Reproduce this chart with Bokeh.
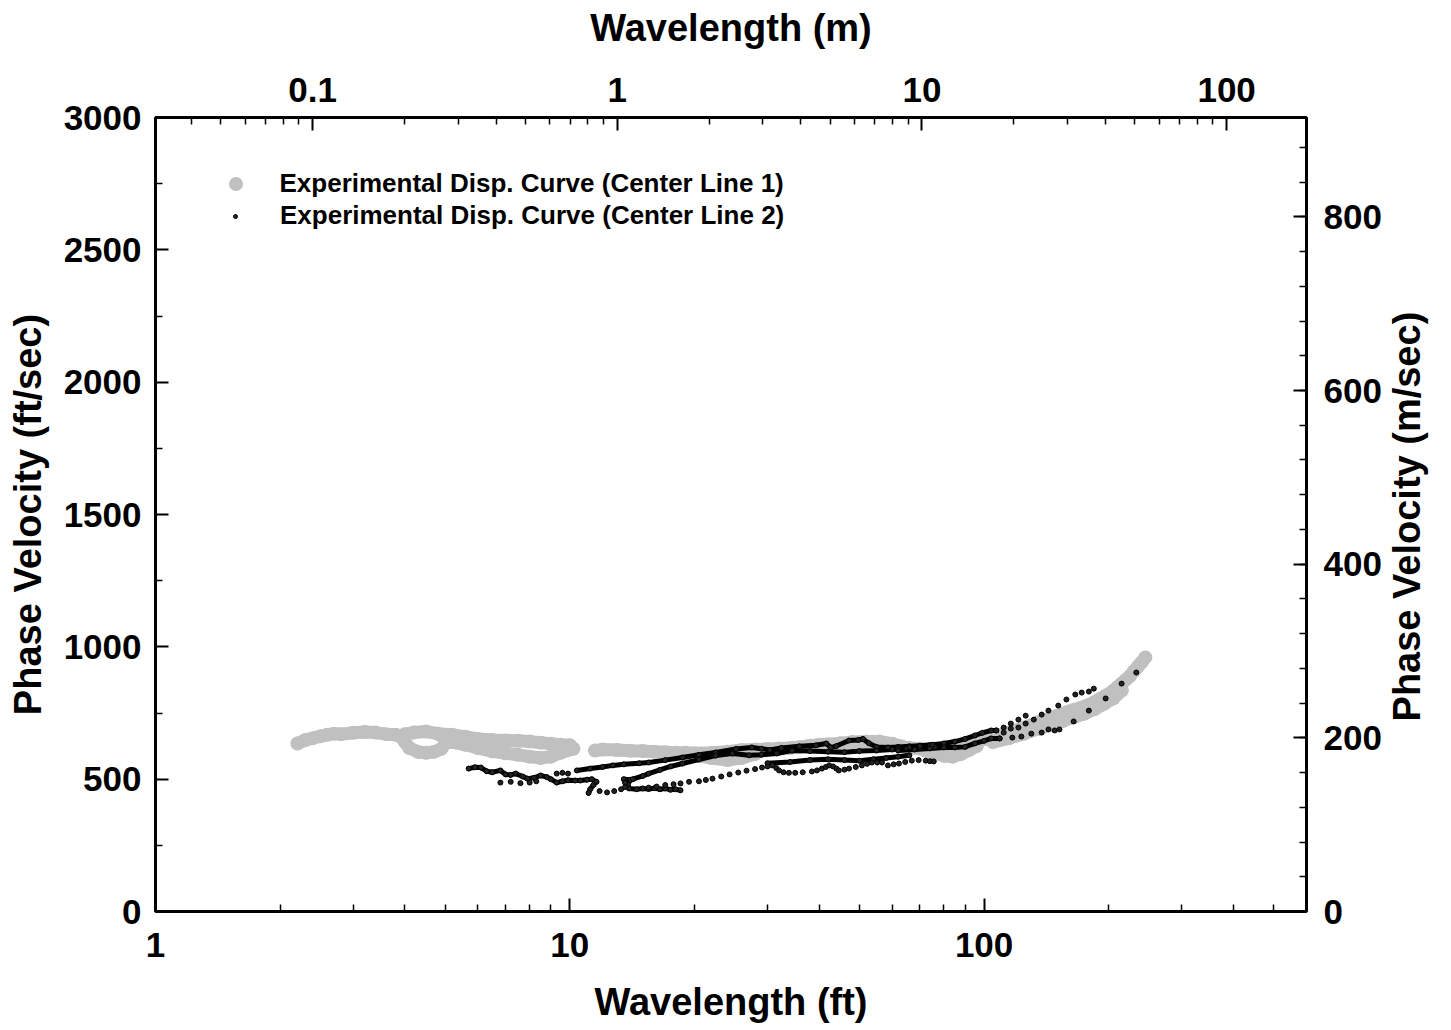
import math
from bokeh.plotting import figure
from bokeh.models import (Range1d, LogScale, LogAxis, LinearAxis, FixedTicker, Legend,
                          LegendItem, CustomJSTickFormatter)
from bokeh.embed import file_html
from bokeh.resources import INLINE

# ---------------- data (wavelength in ft, phase velocity in ft/sec) ----------------
# Center Line 1 (grey), read as overlapping tracks
cl1_a_ft = [2.2, 2.3, 2.4, 2.5, 2.6, 2.7, 2.8, 3.0, 3.2, 3.4, 3.6, 3.8, 3.9, 4.0, 4.1, 4.3, 4.5,
            4.7, 4.9, 5.0, 5.0, 4.8, 4.5, 4.2, 4.0]
cl1_a_v = [635, 648, 655, 662, 668, 672, 670, 675, 678, 676, 670, 668, 662, 640, 618, 603, 600,
           603, 615, 635, 655, 672, 680, 676, 670]
cl1_b_ft = [4.8, 5.2, 5.6, 6.0, 6.5, 7.0, 7.5, 8.0, 8.5, 9.0, 9.5, 10.0, 10.2, 9.5, 9.0, 8.5,
            8.0, 7.5, 7.0, 6.5, 6.0, 5.6, 5.2]
cl1_b_v = [672, 668, 660, 652, 648, 646, 645, 642, 638, 634, 630, 628, 615, 600, 585, 580,
           585, 592, 598, 605, 618, 630, 640]
cl1_c_ft = [11.5, 12, 13, 14, 15, 16, 17, 18, 19, 20, 22, 24, 26, 28, 30, 32, 34, 36, 38, 40,
            42, 45, 48, 52, 56, 60, 63, 66, 70, 74, 78, 82, 86, 90, 95, 100, 105, 110, 115,
            120, 125, 130, 135, 140, 145, 150, 155, 160, 165, 170, 175, 180, 185, 190, 195,
            200, 205, 210, 215, 220, 225, 230, 235, 240, 245]
cl1_c_v = [608, 612, 610, 607, 606, 604, 602, 600, 600, 598, 600, 604, 610, 612, 614, 616,
           618, 622, 626, 630, 632, 636, 640, 642, 642, 634, 624, 618, 616, 614, 610, 612,
           620, 630, 642, 652, 660, 668, 675, 685, 695, 705, 715, 724, 732, 740, 748, 756,
           762, 768, 775, 782, 792, 802, 812, 822, 834, 848, 862, 876, 890, 908, 925, 942, 960]
cl1_d_ft = [20, 22, 24, 26, 28]
cl1_d_v = [590, 580, 572, 580, 595]
cl1_e_ft = [72, 76, 80, 84, 88, 92, 96]
cl1_e_v = [608, 598, 588, 585, 595, 610, 625]
cl1_f_ft = [105, 115, 125, 135, 145, 155, 165, 175, 185, 195, 205, 215]
cl1_f_v = [640, 655, 672, 690, 705, 720, 735, 748, 765, 785, 805, 835]

# Center Line 2 (black): dense runs (look like solid lines)
cl2_k1_ft = [5.7, 5.9, 6.1, 6.3, 6.5, 6.8, 7.0, 7.2, 7.4, 7.7, 7.9, 8.2, 8.5, 8.8, 9.0, 9.3,
             9.6, 9.9, 10.3, 10.6, 11.0, 11.3, 11.6, 11.4, 11.2, 11.1]
cl2_k1_v = [540, 545, 544, 530, 526, 533, 518, 516, 521, 510, 502, 505, 514, 508, 500, 487,
            492, 496, 495, 495, 498, 500, 490, 478, 462, 448]
cl2_low_ft = [13.5, 14.0, 13.8, 13.9, 14.5, 15.0, 15.5, 16.0, 16.5, 17.0, 17.5, 18.0, 18.5]
cl2_low_v = [500, 498, 480, 465, 462, 465, 463, 466, 462, 465, 460, 462, 458]
cl2_a_ft = [10.4, 11.2, 12, 12.7, 13.5, 14.7, 15.5, 17, 18.7, 20.5, 22.5, 25.2, 27.5, 29, 30.4,
            32.4, 35.8, 39.3, 41.6, 42.6, 44, 47.2, 49.7, 51, 52.7, 55, 58.6, 62, 66, 70, 74]
cl2_a_v = [533, 540, 546, 552, 556, 560, 563, 572, 582, 592, 601, 614, 620, 615, 610, 618, 624,
           628, 635, 620, 625, 646, 648, 652, 636, 622, 620, 622, 624, 626, 628]
cl2_b_ft = [13.6, 14.2, 15, 15.5, 16.5, 17.5, 18.7, 20.5, 22.5, 24.7, 27.1, 29, 31.6, 34.4, 38,
            42, 46, 50, 55, 60, 65, 70, 76]
cl2_b_v = [486, 500, 512, 521, 535, 548, 559, 574, 589, 597, 590, 592, 597, 608, 606, 604, 602,
           606, 608, 612, 616, 618, 622]
cl2_d_ft = [30, 34, 38, 42, 46, 50, 54, 58, 62, 66]
cl2_d_v = [560, 565, 572, 575, 572, 570, 575, 580, 585, 590]
cl2_e_ft = [62, 66, 70, 75, 80, 85, 90, 95, 99, 104, 107]
cl2_e_v = [616, 620, 625, 630, 635, 642, 652, 665, 675, 684, 684]
cl2_f_ft = [62, 68, 74, 80, 85, 90, 95, 100, 104, 109]
cl2_f_v = [608, 612, 616, 620, 620, 622, 635, 645, 654, 654]

# Center Line 2 (black): sparse dotted runs
cl2_dots_a_ft = [6.8, 7.2, 7.6, 8.0, 8.3, 9.3, 9.6, 9.9, 11.8, 12.3, 12.8, 13.3, 13.6]
cl2_dots_a_v = [487, 490, 485, 487, 492, 521, 524, 521, 455, 450, 455, 462, 470]
cl2_dots_b_ft = [15.5, 16.2, 17.0, 17.8, 18.5, 19.4, 20.5, 21.3, 22.1, 23.2, 24.3, 25.5, 26.7,
                 28.0, 29.1, 30.0, 30.8, 31.5, 32.0, 32.8, 33.8, 35.0, 36.5, 38.4, 39.5, 40.6,
                 41.5, 42.3, 43.2, 44.0, 44.6, 46.0, 47.2, 49.0, 50.7, 52.2, 53.6, 55.2, 56.7,
                 58.6, 60.5, 62.3, 64.5, 66.9, 69.5, 72.3, 74.0, 75.6]
cl2_dots_b_v = [468, 472, 478, 481, 484, 490, 492, 497, 502, 510, 518, 525, 532, 538, 544, 548,
                552, 542, 533, 526, 524, 524, 526, 529, 533, 540, 546, 552, 548, 540, 533, 536,
                540, 546, 552, 558, 563, 563, 563, 552, 556, 559, 565, 570, 572, 570, 568, 567]
cl2_dots_c_ft = [107, 111.5, 116, 121, 126, 131.8, 137.7, 143, 151, 158, 166, 172, 179, 184]
cl2_dots_c_v = [684, 695, 710, 725, 740, 725, 744, 759, 778, 801, 820, 827, 831, 842]
cl2_dots_d_ft = [111.5, 116, 121, 126, 164.5, 179, 196.5, 214.7, 233]
cl2_dots_d_v = [676, 691, 695, 710, 718, 759, 805, 861, 903]
cl2_dots_e_ft = [109, 117, 123, 130, 137.7, 143, 148, 152]
cl2_dots_e_v = [654, 657, 661, 672, 676, 688, 684, 688]

x_ticks_ft = [1, 10, 100]
x_ticks_m = [0.1, 1, 10, 100]
y_ticks_fts = [0, 500, 1000, 1500, 2000, 2500, 3000]
y_ticks_ms = [0, 200, 400, 600, 800]

FT_TO_M = 0.3048
X_MAX_FT = 600
Y_MAX_FTS = 3000

FONT = "Liberation Sans"
GREY = "#c0c0c0"

p = figure(width=1451, height=1028, x_axis_type="log",
           x_range=Range1d(1, X_MAX_FT), y_range=Range1d(0, Y_MAX_FTS),
           output_backend="svg", toolbar_location=None,
           min_border_left=155, min_border_right=143, min_border_top=117, min_border_bottom=117)
p.xgrid.visible = False
p.ygrid.visible = False
p.outline_line_color = "black"
p.outline_line_width = 3
p.background_fill_color = "white"

p.extra_x_ranges = {"m": Range1d(0.1 * FT_TO_M, X_MAX_FT * FT_TO_M)}
p.extra_x_scales = {"m": LogScale()}
p.extra_y_ranges = {"ms": Range1d(0, Y_MAX_FTS * FT_TO_M)}

# ---------------- grey series ----------------
grey_tracks = [(cl1_a_ft, cl1_a_v), (cl1_b_ft, cl1_b_v), (cl1_c_ft, cl1_c_v),
               (cl1_d_ft, cl1_d_v), (cl1_e_ft, cl1_e_v), (cl1_f_ft, cl1_f_v)]
for fx, fy in grey_tracks:
    p.line(fx, fy, line_color=GREY, line_width=13, line_cap="round", line_join="round")
gx = sum([t[0] for t in grey_tracks], [])
gy = sum([t[1] for t in grey_tracks], [])
grey_r = p.scatter(gx, gy, marker="circle", size=14, fill_color=GREY, line_color=None)

# ---------------- black series ----------------
dense_tracks = [(cl2_k1_ft, cl2_k1_v), (cl2_low_ft, cl2_low_v), (cl2_a_ft, cl2_a_v),
                (cl2_b_ft, cl2_b_v), (cl2_d_ft, cl2_d_v), (cl2_e_ft, cl2_e_v), (cl2_f_ft, cl2_f_v)]
sparse_tracks = [(cl2_dots_a_ft, cl2_dots_a_v), (cl2_dots_b_ft, cl2_dots_b_v),
                 (cl2_dots_c_ft, cl2_dots_c_v), (cl2_dots_d_ft, cl2_dots_d_v),
                 (cl2_dots_e_ft, cl2_dots_e_v)]
for fx, fy in dense_tracks:
    p.line(fx, fy, line_color="black", line_width=5, line_cap="round", line_join="round")
bx = sum([t[0] for t in dense_tracks + sparse_tracks], [])
by = sum([t[1] for t in dense_tracks + sparse_tracks], [])
black_r = p.scatter(bx, by, marker="circle", size=5, fill_color="#222222", line_color="black",
                    line_width=1)

# ---------------- axes ----------------
fmt = CustomJSTickFormatter(code="return String(tick)")

def style_axis(ax, label_standoff, title_standoff):
    ax.axis_line_color = None
    ax.major_tick_in = 13
    ax.major_tick_out = 0
    ax.minor_tick_in = 7
    ax.minor_tick_out = 0
    ax.major_tick_line_width = 2
    ax.minor_tick_line_width = 1.5
    ax.major_tick_line_color = "black"
    ax.minor_tick_line_color = "black"
    ax.major_label_text_font = FONT
    ax.major_label_text_font_style = "bold"
    ax.major_label_text_font_size = "35px"
    ax.major_label_text_color = "black"
    ax.major_label_standoff = label_standoff
    ax.axis_label_text_font = FONT
    ax.axis_label_text_font_style = "bold"
    ax.axis_label_text_font_size = "38px"
    ax.axis_label_text_color = "black"
    ax.axis_label_standoff = title_standoff

bottom = p.xaxis[0]
bottom.ticker = FixedTicker(ticks=x_ticks_ft,
                            minor_ticks=[m * d for d in (1, 10, 100) for m in range(2, 10) if m * d < X_MAX_FT])
bottom.formatter = fmt
bottom.axis_label = "Wavelength (ft)"
style_axis(bottom, 21, 21)

left = p.yaxis[0]
left.ticker = FixedTicker(ticks=y_ticks_fts, minor_ticks=[250 + 500 * i for i in range(6)])
left.axis_label = "Phase Velocity (ft/sec)"
style_axis(left, 14, 12)

top = LogAxis(x_range_name="m", axis_label="Wavelength (m)", formatter=fmt,
              ticker=FixedTicker(ticks=x_ticks_m,
                                 minor_ticks=[m * d for d in (0.01, 0.1, 1, 10) for m in range(2, 10)]))
style_axis(top, 16, 26)
p.add_layout(top, "above")

RIGHT_TITLE = "Phase Velocity (m/sec)"
right = LinearAxis(y_range_name="ms",
                   ticker=FixedTicker(ticks=y_ticks_ms, minor_ticks=[40 * i for i in range(23)]))
style_axis(right, 17, 22)
# read bottom-to-top like the left title; the rotated label starts at its anchor,
# so anchor it at the bottom of the axis and pad the start with no-break spaces
right.axis_label_orientation = math.pi / 2
if "axis_label_align" in right.properties():
    right.axis_label_align = "start"
    right.axis_label = "\u00a0" * 18 + RIGHT_TITLE
else:
    right.axis_label = RIGHT_TITLE
p.add_layout(right, "right")

# ---------------- legend (two legends so each marker keeps its own size) ----------------
leg_common = dict(padding=0, margin=0, spacing=0, label_text_font=FONT,
                  label_text_font_style="bold", label_text_font_size="26px",
                  label_text_color="black", border_line_color=None, background_fill_alpha=0)
legend1 = Legend(items=[LegendItem(label="Experimental Disp. Curve (Center Line 1)", renderers=[grey_r])],
                 location=(62.5, 710.5), glyph_width=35, glyph_height=35, label_height=35,
                 label_standoff=27, **leg_common)
legend2 = Legend(items=[LegendItem(label="Experimental Disp. Curve (Center Line 2)", renderers=[black_r])],
                 location=(75, 680), glyph_width=10, glyph_height=10, label_height=30,
                 label_standoff=40, **leg_common)
p.add_layout(legend1)
p.add_layout(legend2)

open("out.html", "w").write(file_html(p, INLINE))
